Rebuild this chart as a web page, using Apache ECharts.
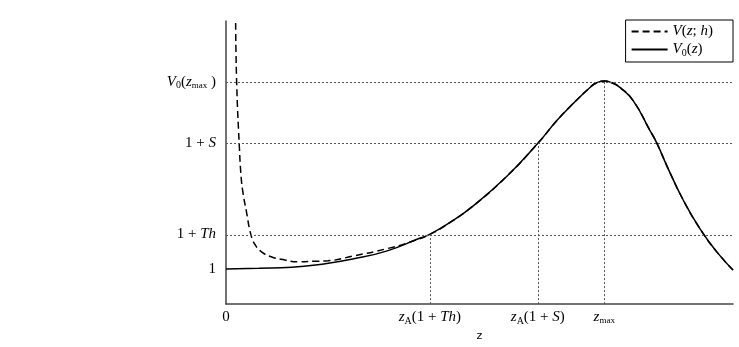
<!DOCTYPE html>
<html>
<head>
<meta charset="utf-8">
<script src="https://cdn.jsdelivr.net/npm/echarts@6/dist/echarts.min.js"></script>
<style>
  html, body { margin: 0; padding: 0; background: #fff; }
  #main { width: 739px; height: 347px; }
</style>
</head>
<body>
<div id="main"></div>
<script>
// values (z normalised to [0,1], V scaled so that 1 + S = 2)
var zTicks = [0, 0.402, 0.615, 0.746];
var zTickLabels = ['{n|0}', '{i|z}{s|A}{n|(1 + }{i|Th}{n|)}', '{i|z}{s|A}{n|(1 + }{i|S}{n|)}', '{i|z}{m|max}'];
var vTicks = [1, 1.275, 2, 2.49];
var vTickLabels = ['{n|1}', '{n|1 + }{i|Th}', '{n|1 + }{i|S}', '{i|V}{s|0}{n|(}{i|z}{m|max}{n| )}'];

var zSolid = [0, 0.065, 0.130, 0.185, 0.250, 0.318, 0.383, 0.402, 0.442, 0.487, 0.554, 0.615, 0.653, 0.684, 0.718, 0.731, 0.746, 0.761, 0.777, 0.803, 0.836, 0.850, 0.870, 0.901, 0.935, 0.968, 1.0];
var vSolid = [1.000, 1.005, 1.013, 1.036, 1.079, 1.144, 1.246, 1.275, 1.370, 1.500, 1.738, 2.000, 2.183, 2.314, 2.445, 2.482, 2.496, 2.482, 2.445, 2.340, 2.104, 2.000, 1.817, 1.555, 1.319, 1.136, 0.992];

var zDashed = [0.019, 0.021, 0.026, 0.030, 0.034, 0.040, 0.049, 0.058, 0.070, 0.089, 0.116, 0.142, 0.175, 0.201, 0.250, 0.318, 0.363, 0.402, 0.442, 0.487, 0.554, 0.615, 0.653, 0.684, 0.718, 0.731, 0.746, 0.761, 0.777, 0.803, 0.836, 0.850, 0.870, 0.901, 0.935, 0.968, 1.0];
var vDashed = [2.958, 2.487, 2.000, 1.725, 1.594, 1.463, 1.275, 1.189, 1.136, 1.097, 1.071, 1.057, 1.061, 1.065, 1.102, 1.162, 1.214, 1.275, 1.370, 1.500, 1.738, 2.000, 2.183, 2.314, 2.445, 2.482, 2.496, 2.482, 2.445, 2.340, 2.104, 2.000, 1.817, 1.555, 1.319, 1.136, 0.992];

var vMin = 0.72, vMax = 2.974;

function pairs(xs, ys) {
    return xs.map(function (x, i) { return [x, ys[i]]; });
}
function nearest(arr, v) {
    var best = 0;
    for (var i = 1; i < arr.length; i++) {
        if (Math.abs(arr[i] - v) < Math.abs(arr[best] - v)) best = i;
    }
    return best;
}

var serif = 'Liberation Serif';
var rich = {
    n: { fontFamily: serif, fontSize: 15, color: '#000', lineHeight: 18 },
    i: { fontFamily: serif, fontStyle: 'italic', fontSize: 15, color: '#000', lineHeight: 18 },
    s: { fontFamily: serif, fontSize: 10, color: '#000', lineHeight: 10, padding: [8, 0, 0, 0] },
    m: { fontFamily: serif, fontSize: 9, color: '#000', lineHeight: 10, padding: [8, 0, 0, 0] }
};
var legendRich = {
    n: { fontFamily: serif, fontSize: 15, color: '#000', lineHeight: 16 },
    i: { fontFamily: serif, fontStyle: 'italic', fontSize: 15, color: '#000', lineHeight: 16 },
    s: { fontFamily: serif, fontSize: 10, color: '#000', lineHeight: 10, padding: [7, 0, 0, 0] }
};

// guide lines: full-width horizontals, verticals from the axis up to the curve
var guides = [];
vTicks.slice(1).forEach(function (v) { guides.push({ yAxis: v }); });
zTicks.slice(1).forEach(function (z, k) {
    guides.push([{ coord: [z, vMin] }, { coord: [z, vTicks[k + 1]] }]);
});

var myChart = echarts.init(document.getElementById('main'));

var option = {
    animation: false,
    backgroundColor: '#fff',
    grid: { left: 226, right: 6, top: 21, bottom: 39 },
    legend: {
        orient: 'vertical',
        right: 6,
        top: 20,
        borderColor: '#000',
        borderWidth: 1,
        borderRadius: 0,
        padding: [4, 20, 4, 5],
        itemGap: 2,
        itemWidth: 36,
        itemHeight: 14,
        itemStyle: { opacity: 0 },
        data: ['V(z;h)', 'V0(z)'],
        formatter: function (name) {
            return name === 'V(z;h)' ? '{i|V}{n|(}{i|z}{n|; }{i|h}{n|)}' : '{i|V}{s|0}{n|(}{i|z}{n|)}';
        },
        textStyle: { rich: legendRich }
    },
    xAxis: {
        type: 'value',
        min: 0,
        max: 1,
        name: 'z',
        nameLocation: 'middle',
        nameGap: 25,
        nameTextStyle: { fontFamily: 'DejaVu Sans', fontSize: 11, color: '#000' },
        axisLine: { lineStyle: { color: '#444', width: 1.5 } },
        axisTick: { show: false },
        splitLine: { show: false },
        axisLabel: {
            customValues: zTicks,
            margin: 4,
            formatter: function (v) { return zTickLabels[nearest(zTicks, v)]; },
            rich: rich
        }
    },
    yAxis: {
        type: 'value',
        min: vMin,
        max: vMax,
        axisLine: { show: true, lineStyle: { color: '#444', width: 1.5 } },
        axisTick: { show: false },
        splitLine: { show: false },
        axisLabel: {
            customValues: vTicks,
            margin: 10,
            formatter: function (v) { return vTickLabels[nearest(vTicks, v)]; },
            rich: rich
        }
    },
    series: [
        {
            name: 'V(z;h)',
            type: 'line',
            data: pairs(zDashed, vDashed),
            symbol: 'none',
            smooth: 0.5,
            lineStyle: { color: '#000', width: 1.5, type: [7, 4] },
            itemStyle: { color: '#000' },
            markLine: {
                silent: true,
                symbol: 'none',
                label: { show: false },
                lineStyle: { color: '#555', width: 1, type: [2, 2] },
                data: guides
            },
            z: 2
        },
        {
            name: 'V0(z)',
            type: 'line',
            data: pairs(zSolid, vSolid),
            symbol: 'none',
            smooth: 0.5,
            lineStyle: { color: '#000', width: 1.5, type: 'solid' },
            itemStyle: { color: '#000' },
            z: 3
        }
    ]
};

myChart.setOption(option);
</script>
</body>
</html>
